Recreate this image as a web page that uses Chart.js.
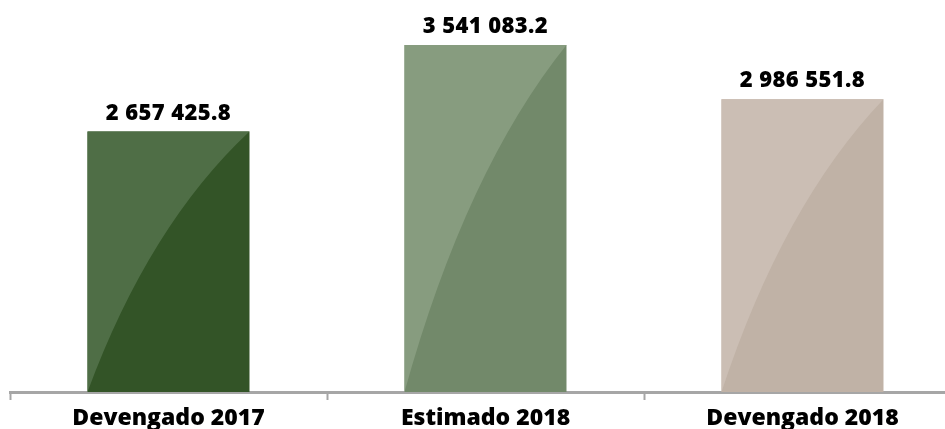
<!DOCTYPE html>
<html>
<head>
<meta charset="utf-8">
<script src="https://cdn.jsdelivr.net/npm/chart.js@4"></script>
<style>
  html, body { margin: 0; padding: 0; background: #fff; overflow: hidden; }
  #wrap { width: 961px; height: 429px; }
</style>
</head>
<body>
<div id="wrap"><canvas id="graph" width="961" height="429"></canvas></div>
<script>
// data
const categories = ['Devengado 2017', 'Estimado 2018', 'Devengado 2018'];
const values = [2657425.8, 3541083.2, 2986551.8];
const yMax = 4000000;

// base (dark) and gloss (light) colours per bar
const barColors = ['#335427', '#72896a', '#c0b2a6'];
const glossColors = ['#4f6e46', '#879c7f', '#cbbeb4'];

// "2657425.8" -> "2 657 425.8"
function fmt(v) {
    const parts = v.toFixed(1).split('.');
    return parts[0].replace(/\B(?=(\d{3})+(?!\d))/g, ' ') + '.' + parts[1];
}

// lighter curved area on the upper left of every bar + value on top
const glossPlugin = {
    id: 'gloss',
    afterDatasetsDraw(chart) {
        const c = chart.ctx;
        const meta = chart.getDatasetMeta(0);
        meta.data.forEach((bar, i) => {
            const x0 = bar.x - bar.width / 2;
            const x1 = bar.x + bar.width / 2;
            const top = bar.y;
            const bottom = bar.base;
            const w = x1 - x0, h = bottom - top;
            c.save();
            c.beginPath();
            c.moveTo(x0, top);
            c.lineTo(x1, top);
            c.quadraticCurveTo(x0 + 0.38 * w, top + 0.36 * h, x0, bottom);
            c.closePath();
            c.fillStyle = glossColors[i];
            c.fill();
            c.restore();

            c.save();
            c.font = '800 22px "Open Sans"';
            c.letterSpacing = '0.4px';
            c.fillStyle = '#000';
            c.textAlign = 'center';
            c.textBaseline = 'alphabetic';
            c.fillText(fmt(values[i]), bar.x, top - 12);
            c.restore();
        });
    }
};

const ctx = document.getElementById('graph').getContext('2d');
const chartx = new Chart(ctx, {
    type: 'bar',
    data: {
        labels: categories,
        datasets: [{
            data: values,
            backgroundColor: barColors,
            borderWidth: 0,
            barPercentage: 1,
            categoryPercentage: 0.511,
        }],
    },
    options: {
        responsive: false,
        animation: false,
        devicePixelRatio: 1,
        layout: { padding: { left: 10, right: 0, top: 0, bottom: 0 } },
        plugins: {
            legend: { display: false },
            tooltip: { enabled: false },
        },
        scales: {
            y: {
                display: false,
                beginAtZero: true,
                min: 0,
                max: yMax,
            },
            x: {
                offset: true,
                grid: {
                    offset: true,
                    drawOnChartArea: false,
                    drawTicks: true,
                    tickLength: 8,
                    tickWidth: 2,
                    tickColor: '#a6a6a6',
                },
                border: { display: true, color: '#a6a6a6', width: 3 },
                ticks: {
                    color: '#000',
                    padding: 5,
                    maxRotation: 0,
                    autoSkip: false,
                    font: { family: '"Open Sans"', weight: '800', size: 23 },
                },
                afterFit(scale) { scale.height = 37; },
            },
        },
    },
    plugins: [glossPlugin],
});
</script>
</body>
</html>
